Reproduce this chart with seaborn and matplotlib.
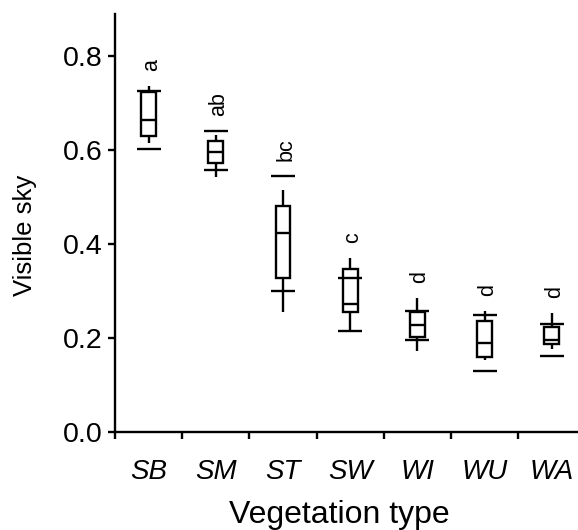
import numpy as np
import pandas as pd
import seaborn as sns
import matplotlib.pyplot as plt
from matplotlib.ticker import FormatStrFormatter

# Vegetation types and box summary for visible sky fraction
categories = ["SB", "SM", "ST", "SW", "WI", "WU", "WA"]
whisker_low = [0.616, 0.544, 0.256, 0.216, 0.174, 0.153, 0.178]
quartile_low = [0.631, 0.574, 0.328, 0.256, 0.202, 0.161, 0.188]
median = [0.664, 0.597, 0.423, 0.272, 0.229, 0.191, 0.196]
quartile_high = [0.724, 0.619, 0.482, 0.348, 0.256, 0.236, 0.225]
whisker_high = [0.737, 0.633, 0.515, 0.370, 0.285, 0.259, 0.253]
# Additional bar markers (lower / upper) drawn across each box
band_low = [0.603, 0.559, 0.301, 0.216, 0.197, 0.131, 0.163]
band_high = [0.726, 0.642, 0.546, 0.328, 0.258, 0.249, 0.231]
# Significance group letters
letters = ["a", "ab", "bc", "c", "d", "d", "d"]

# Long-form table: the five-number summary of each group
rows = []
for i, cat in enumerate(categories):
    for v in (whisker_low[i], quartile_low[i], median[i], quartile_high[i], whisker_high[i]):
        rows.append({"type": cat, "sky": v})
df = pd.DataFrame(rows)

sns.set_theme(style="ticks")
plt.rcParams["font.family"] = ["Liberation Sans", "DejaVu Sans"]

LW = 1.7

fig = plt.figure(figsize=(5.78, 5.30), dpi=100)
ax = fig.add_axes([115 / 578, 97.7 / 530, 470.4 / 578, 418.3 / 530])

sns.boxplot(data=df, x="type", y="sky", order=categories, whis=(0, 100),
            width=0.223, color="white", linecolor="black", linewidth=LW,
            showcaps=False, ax=ax)

pos = np.arange(len(categories))
ax.hlines(band_low, pos - 0.18, pos + 0.18, color="black", lw=LW)
ax.hlines(band_high, pos - 0.18, pos + 0.18, color="black", lw=LW)

for i, lab in enumerate(letters):
    top = max(whisker_high[i], band_high[i])
    ax.text(i + 0.04, top + 0.032, lab, rotation=90, ha="center", va="bottom",
            fontsize=15.5, color="black")

ax.set_xlim(-0.5, 6.5)
ax.set_ylim(0, 0.89)
ax.set_yticks([0.0, 0.2, 0.4, 0.6, 0.8])
ax.yaxis.set_major_formatter(FormatStrFormatter("%.1f"))
ax.set_xticks(pos)
ax.set_xticklabels(categories, style="italic")
ax.set_xticks(np.arange(-0.5, 6.6, 1.0), minor=True)

ax.tick_params(axis="x", which="major", length=0, pad=19, labelsize=20, colors="black")
ax.tick_params(axis="x", which="minor", length=5, width=LW, color="black")
ax.tick_params(axis="y", length=5, width=LW, pad=4, labelsize=20.5, colors="black")

for side in ("top", "right"):
    ax.spines[side].set_visible(False)
for side in ("left", "bottom"):
    ax.spines[side].set_linewidth(LW)
    ax.spines[side].set_color("black")

ax.set_xlabel("Vegetation type", fontsize=23, color="black")
ax.xaxis.set_label_coords(0.476, -0.163)
ax.set_ylabel("Visible sky", fontsize=18.5, color="black")
ax.yaxis.set_label_coords(-0.166, 0.47)

fig.savefig("out.png", dpi=100)
